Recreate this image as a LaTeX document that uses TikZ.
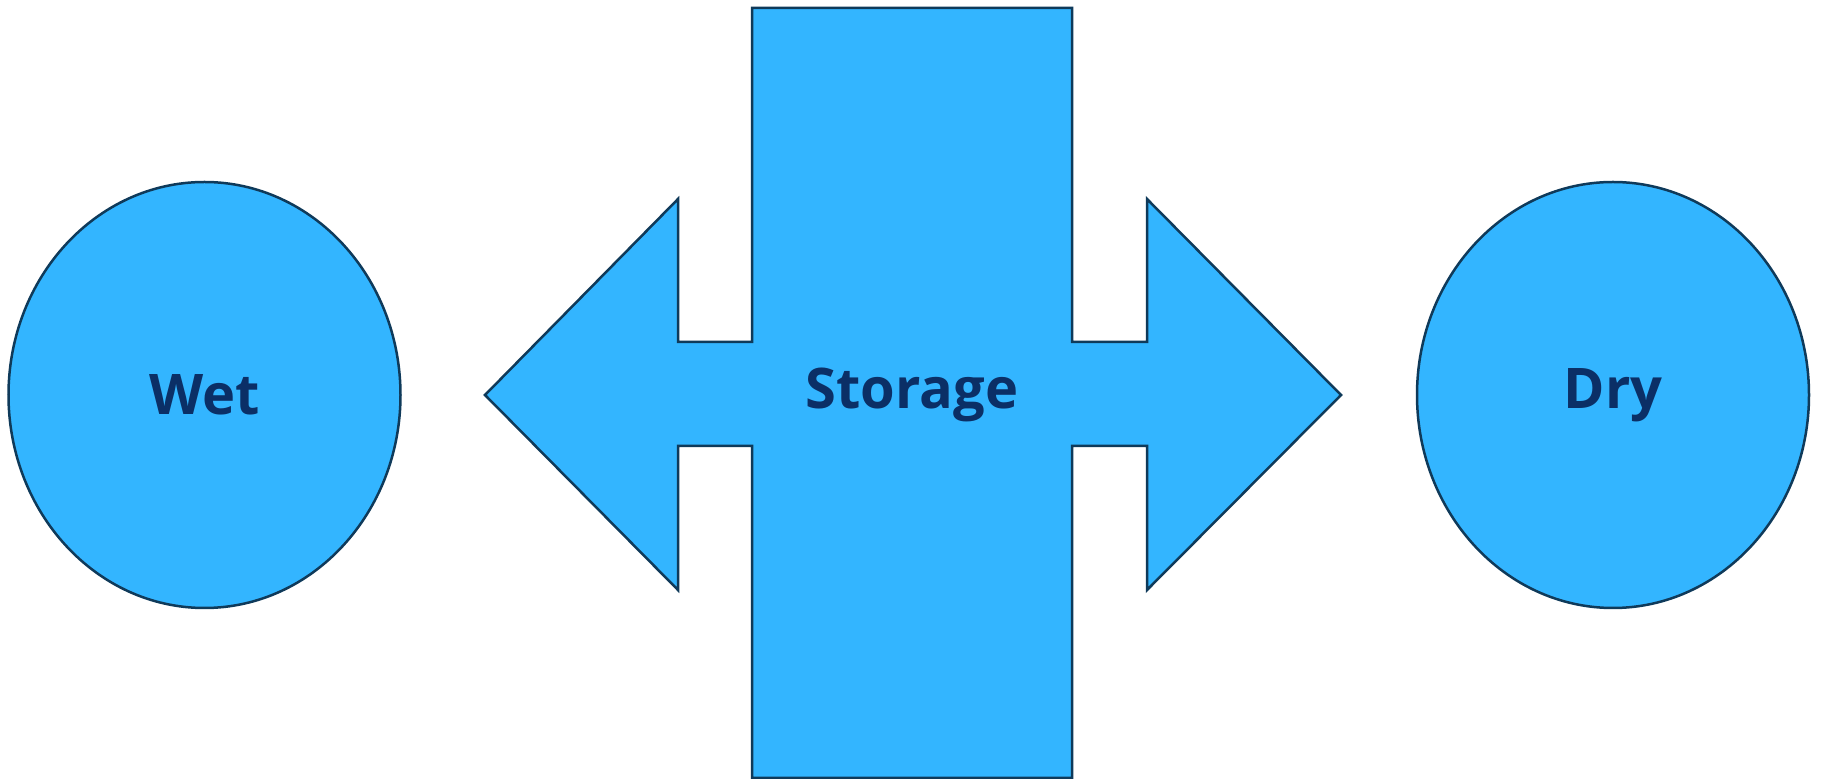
\documentclass[tikz,border=0pt]{standalone}
\usepackage{fontspec}
\setmainfont{Open Sans}
\usetikzlibrary{shapes.geometric}
\definecolor{fillblue}{HTML}{33B5FF}
\definecolor{edgenavy}{HTML}{0F3A5A}
\definecolor{textnavy}{HTML}{0B2F66}
\tikzset{
  shapestyle/.style={draw=edgenavy, fill=fillblue, line width=1.25pt, line join=miter},
  labeltext/.style={text=textnavy, font=\fontsize{28}{34}\selectfont\bfseries},
  bubble/.style={shapestyle, ellipse, minimum width=196pt, minimum height=213pt, inner sep=0pt, labeltext}
}
\begin{document}
\begin{tikzpicture}[x=0.5pt, y=-0.5pt]
\useasboundingbox (0,0) rectangle (1821,779);
% central storage cross
\draw[shapestyle] (752,8) -- (1072,8) -- (1072,342) -- (1147,342) -- (1147,199)
  -- (1341,395) -- (1147,590) -- (1147,446) -- (1072,446) -- (1072,778)
  -- (752,778) -- (752,446) -- (678,446) -- (678,590) -- (485,395)
  -- (678,199) -- (678,342) -- (752,342) -- cycle;
\node[labeltext] (storage) at (912,395) {Storage};
\node[bubble] (wet) at (204.5,395) {Wet};
\node[bubble] (dry) at (1613,395) {Dry};
\end{tikzpicture}
\end{document}
